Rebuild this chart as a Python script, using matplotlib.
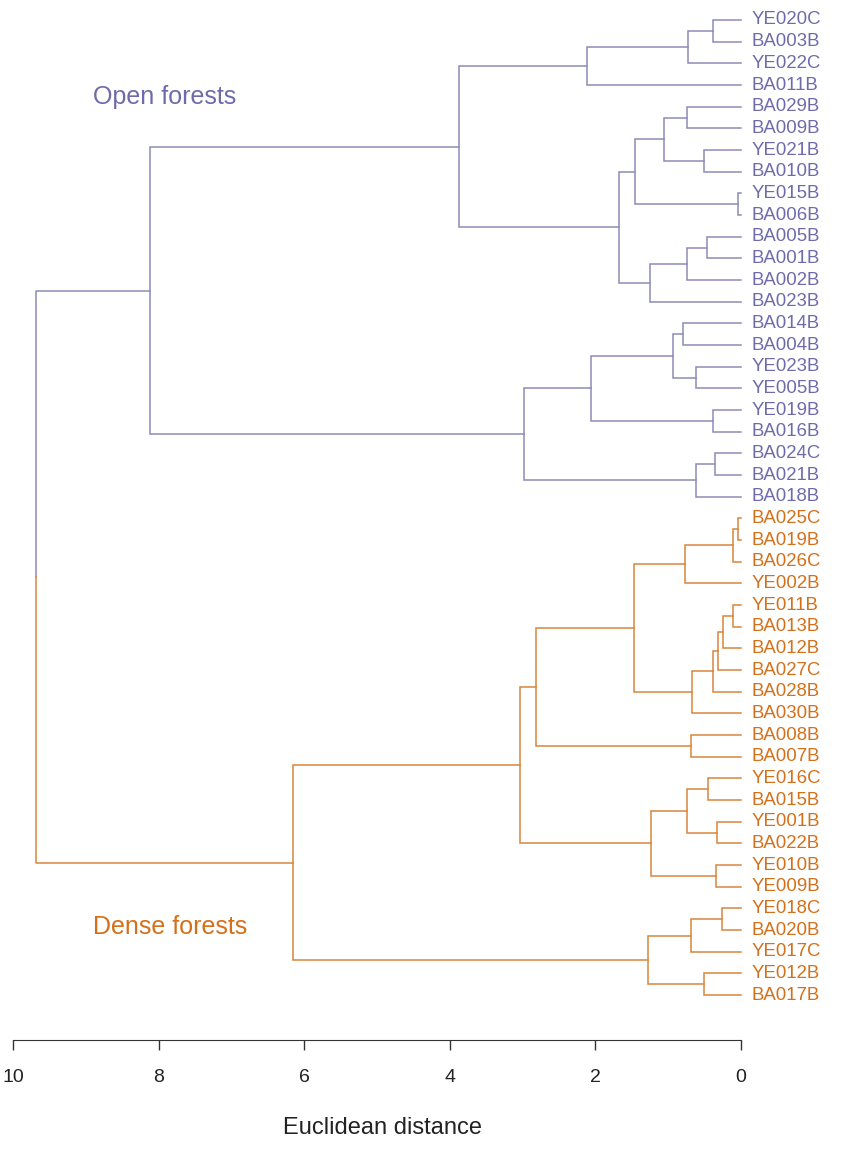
import numpy as np
import matplotlib
matplotlib.use("Agg")
from matplotlib import pyplot as plt
from matplotlib import transforms

plt.rcParams['font.family'] = ['Liberation Sans', 'DejaVu Sans']

## Data: leaves (top to bottom) and merges (scipy-like linkage, ids >= n_leaves are clusters)

leaves = ['YE020C', 'BA003B', 'YE022C', 'BA011B', 'BA029B', 'BA009B', 'YE021B', 'BA010B',
          'YE015B', 'BA006B', 'BA005B', 'BA001B', 'BA002B', 'BA023B', 'BA014B', 'BA004B',
          'YE023B', 'YE005B', 'YE019B', 'BA016B', 'BA024C', 'BA021B', 'BA018B',
          'BA025C', 'BA019B', 'BA026C', 'YE002B', 'YE011B', 'BA013B', 'BA012B', 'BA027C',
          'BA028B', 'BA030B', 'BA008B', 'BA007B', 'YE016C', 'BA015B', 'YE001B', 'BA022B',
          'YE010B', 'YE009B', 'YE018C', 'BA020B', 'YE017C', 'YE012B', 'BA017B']
n_open = 23          # the first 23 leaves are open forests, the rest dense forests

merge_left = [0, 46, 47, 4, 6, 49, 8, 51, 10, 54, 55, 53, 48, 14, 16, 59, 18, 61, 20, 64, 63, 58,
              23, 68, 69, 27, 71, 72, 73, 74, 70, 33, 76, 35, 37, 79, 39, 81, 78, 41, 85, 44, 86, 84,
              67]
merge_right = [1, 2, 3, 5, 7, 50, 9, 52, 11, 12, 13, 56, 57, 15, 17, 60, 19, 62, 21, 22, 65, 66,
               24, 25, 26, 28, 29, 30, 31, 32, 75, 34, 77, 36, 38, 80, 40, 82, 83, 42, 43, 45, 87, 88,
               89]
merge_height = [0.38, 0.73, 2.11, 0.74, 0.51, 1.06, 0.04, 1.46, 0.47, 0.74, 1.25, 1.68, 3.87,
                0.80, 0.62, 0.93, 0.38, 2.06, 0.36, 0.62, 2.98, 8.12,
                0.04, 0.11, 0.77, 0.11, 0.25, 0.32, 0.38, 0.67, 1.47, 0.69, 2.82, 0.45, 0.33, 0.74,
                0.34, 1.24, 3.04, 0.26, 0.69, 0.51, 1.28, 6.15,
                9.68]

ticks = [10, 8, 6, 4, 2, 0]

col_open_line = '#8d8bb8'
col_open_text = '#6e6bab'
col_dense_line = '#d9853a'
col_dense_text = '#d4701a'

## Dessin

n = len(leaves)
pos = {i: float(i) for i in range(n)}
hgt = {i: 0.0 for i in range(n)}
grp = {i: (0 if i < n_open else 1) for i in range(n)}

fig = plt.figure(figsize=(8.48, 11.52), dpi=100)
ax = fig.add_axes([0, 1 - 1040 / 1152, 1, 1040 / 1152])

for k, (a, b, h) in enumerate(zip(merge_left, merge_right, merge_height)):
    node = n + k
    pos[node] = (pos[a] + pos[b]) / 2
    hgt[node] = h
    if grp[a] == grp[b]:
        grp[node] = grp[a]
        c = col_open_line if grp[a] == 0 else col_dense_line
        ax.plot([hgt[a], h, h, hgt[b]], [pos[a], pos[a], pos[b], pos[b]], color=c, lw=1.1,
                solid_joinstyle='miter')
    else:
        # racine : moitié violette, moitié orange (coupée au milieu du trait vertical)
        mid = pos[node]
        ax.plot([hgt[a], h, h], [pos[a], pos[a], mid], color=col_open_line, lw=1.1)
        ax.plot([h, h, hgt[b]], [mid, pos[b], pos[b]], color=col_dense_line, lw=1.1)

for i, name in enumerate(leaves):
    c = col_open_text if i < n_open else col_dense_text
    ax.text(-0.14, i, name, color=c, fontsize=13.4, va='center', ha='left')

ax.text(8.9, 3.55, 'Open forests', color=col_open_text, fontsize=18, va='center', ha='left')
ax.text(8.9, 41.85, 'Dense forests', color=col_dense_text, fontsize=18, va='center', ha='left')

ax.set_xlim(10 + 13 / 72.8, -(848 - 741) / 72.8)
ax.set_ylim((1040 - 20) / 21.67, -20 / 21.67)

for s in ['top', 'left', 'right']:
    ax.spines[s].set_visible(False)
ax.spines['bottom'].set_bounds(0, 10)
ax.spines['bottom'].set_color('#333333')
ax.set_yticks([])
ax.set_xticks(ticks)
ax.set_xticklabels([str(t) for t in ticks])
ax.tick_params(axis='x', direction='out', length=7, width=1, color='#333333', pad=14,
               labelsize=14, labelcolor='#222222')

trans = transforms.blended_transform_factory(ax.transData, fig.transFigure)
ax.text(4.92, 1 - 1128 / 1152, 'Euclidean distance', transform=trans, ha='center', va='center',
        fontsize=17, color='#222222')

fig.savefig('out.png', dpi=100)
